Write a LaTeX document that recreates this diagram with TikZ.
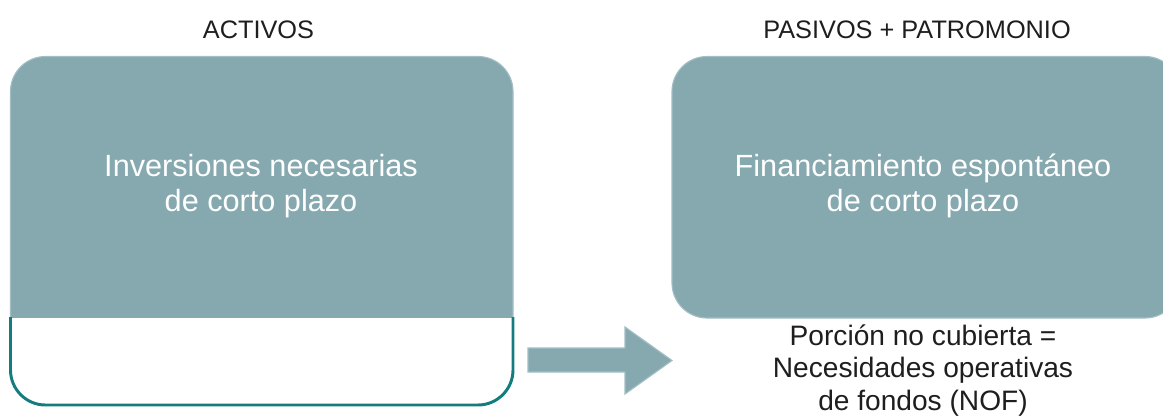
\documentclass[tikz,border=0pt]{standalone}
\usepackage{fontspec}
\setmainfont{Liberation Sans}
\definecolor{boxfill}{RGB}{134,169,176}
\definecolor{boxedge}{RGB}{162,190,196}
\definecolor{tealline}{RGB}{18,124,126}
\definecolor{inktext}{RGB}{30,30,30}
\tikzset{
  heading/.style={font=\fontsize{18}{21}\selectfont, text=inktext, anchor=base},
  boxtext/.style={font=\fontsize{21.8}{24.2}\selectfont, text=white, align=center, anchor=base},
  notetext/.style={font=\fontsize{20}{22.8}\selectfont, text=inktext, align=center, anchor=base},
}
\begin{document}
\begin{tikzpicture}[x=0.025cm,y=-0.025cm]
  \def\r{0.875cm}
  \useasboundingbox (0,0) rectangle (1163,416);
  % activos: filled upper part, open lower part
  \begin{scope}
    \clip (0,0) rectangle (1163,317);
    \filldraw[fill=boxfill,draw=boxedge,line width=0.8pt,rounded corners=\r] (10.5,56.5) rectangle (513,405);
  \end{scope}
  \begin{scope}
    \clip (0,317) rectangle (1163,416);
    \draw[tealline,line width=2.1pt,rounded corners=\r] (10.5,56.5) rectangle (513,405);
  \end{scope}
  % pasivos + patrimonio
  \begin{scope}
    \clip (0,0) rectangle (1163,416);
    \filldraw[fill=boxfill,draw=boxedge,line width=0.8pt,rounded corners=\r] (672,56.5) rectangle (1180,318);
  \end{scope}
  % block arrow
  \filldraw[fill=boxfill,draw=boxedge,line width=0.8pt] (528,348) -- (625,348) -- (625,327) -- (672,360.5) -- (625,394) -- (625,372) -- (528,372) -- cycle;
  \node[heading] (activos) at (258.5,38) {ACTIVOS};
  \node[heading] (pasivos) at (917,38) {PASIVOS + PATROMONIO};
  \node[boxtext] (inversiones) at (261,211) {Inversiones necesarias\\de corto plazo};
  \node[boxtext] (financiamiento) at (923,211) {Financiamiento espontáneo\\de corto plazo};
  \node[notetext] (nof) at (923,410) {Porción no cubierta =\\Necesidades operativas\\de fondos (NOF)};
\end{tikzpicture}
\end{document}
